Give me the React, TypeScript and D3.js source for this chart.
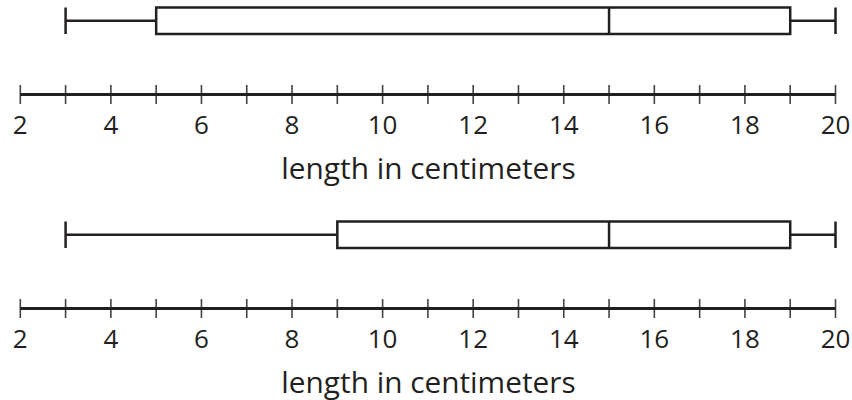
import React from 'react';
import * as d3 from 'd3';

const axisDomain: [number, number] = [2, 20];
const tickValues = d3.range(2, 21, 1);
const labelValues = [2, 4, 6, 8, 10, 12, 14, 16, 18, 20];
const axisTitle = 'length in centimeters';

// min, q1, median, q3, max
const plotA = [3, 5, 15, 19, 20];
const plotB = [3, 9, 15, 19, 20];
const plots = [plotA, plotB];

const W = 852;
const H = 400;
const panelOffset = 214;

const App: React.FC = () => {
  const x = d3.scaleLinear().domain(axisDomain).range([20.3, 835.5]);
  const ink = '#231f20';

  return (
    <svg width={W} height={H} style={{ position: 'absolute', left: 0, top: 0, background: '#fff' }}
      fontFamily="'Open Sans', sans-serif">
      {plots.map((p, i) => {
        const dy = i * panelOffset;
        const [mn, q1, med, q3, mx] = p;
        const boxTop = 7.5 + dy;
        const boxBot = 34 + dy;
        const mid = (boxTop + boxBot) / 2;
        const axisY = 94.5 + dy;
        return (
          <g key={i}>
            {/* whiskers */}
            <line x1={x(mn)} x2={x(q1)} y1={mid} y2={mid} stroke={ink} strokeWidth={2.5} />
            <line x1={x(q3)} x2={x(mx)} y1={mid} y2={mid} stroke={ink} strokeWidth={2.5} />
            <line x1={x(mn)} x2={x(mn)} y1={boxTop} y2={boxBot} stroke={ink} strokeWidth={2.5} />
            <line x1={x(mx)} x2={x(mx)} y1={boxTop} y2={boxBot} stroke={ink} strokeWidth={2.5} />
            {/* box */}
            <rect x={x(q1)} y={boxTop} width={x(q3) - x(q1)} height={boxBot - boxTop}
              fill="#fff" stroke={ink} strokeWidth={2.5} />
            <line x1={x(med)} x2={x(med)} y1={boxTop} y2={boxBot} stroke={ink} strokeWidth={2.5} />
            {/* axis */}
            {tickValues.map(t => (
              <line key={t} x1={x(t)} x2={x(t)} y1={axisY - 9.5} y2={axisY + 9.5}
                stroke="#444" strokeWidth={1.6} />
            ))}
            <line x1={x(axisDomain[0])} x2={x(axisDomain[1])} y1={axisY} y2={axisY}
              stroke={ink} strokeWidth={2.8} />
            {labelValues.map(t => (
              <text key={t} x={x(t)} y={axisY + 39} textAnchor="middle" fontSize={26} fill={ink}>
                {t}
              </text>
            ))}
            <text x={428.5} y={178.5 + dy} textAnchor="middle" fontSize={29.8} fill={ink}>
              {axisTitle}
            </text>
          </g>
        );
      })}
    </svg>
  );
};

export default App;
